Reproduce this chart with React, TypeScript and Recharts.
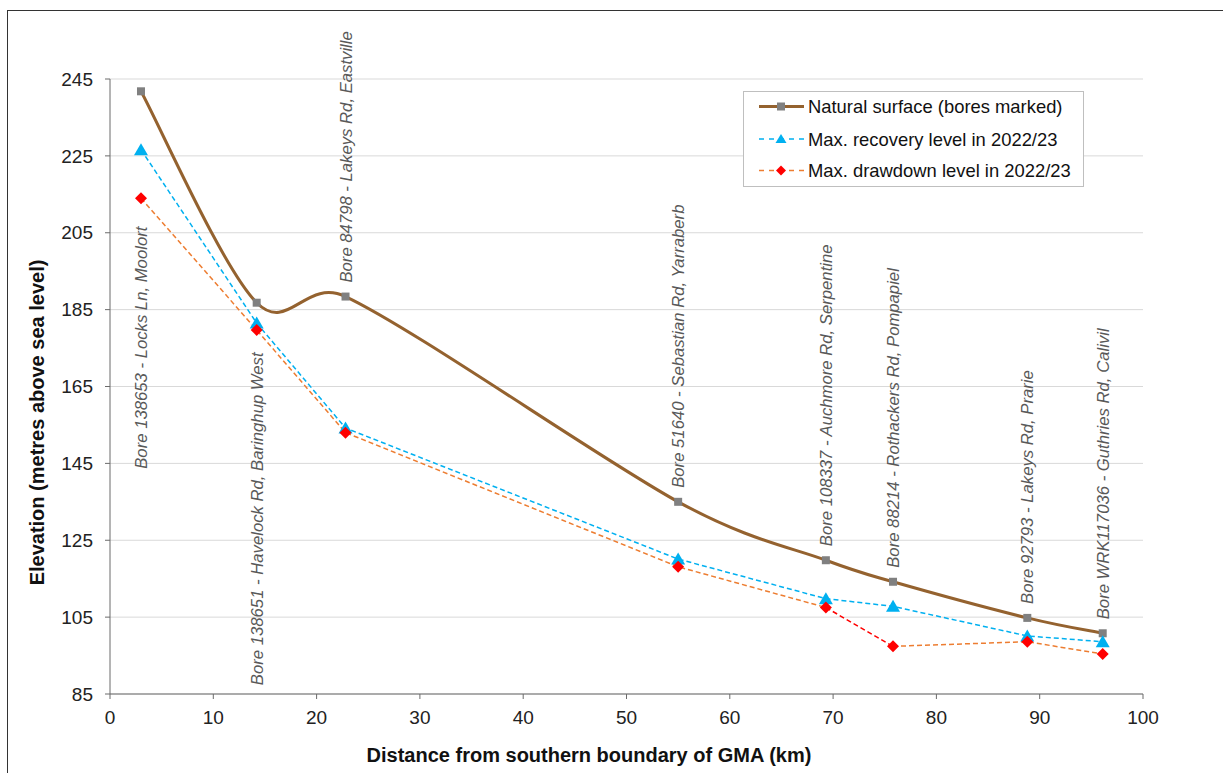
import {
  CartesianGrid,
  LabelList,
  Legend,
  Line,
  LineChart,
  XAxis,
  YAxis,
} from 'recharts';

// bore positions along the GMA and levels (m AHD)
const distanceKm = [3, 14.2, 22.8, 55, 69.3, 75.8, 88.8, 96.1];
const naturalSurface = [241.8, 186.8, 188.4, 135, 119.8, 114.2, 104.8, 100.8];
const maxRecovery = [226.6, 181.5, 154.2, 120.1, 109.8, 107.8, 100.1, 98.6];
const maxDrawdown = [214, 179.7, 153, 118.1, 107.5, 97.4, 98.6, 95.4];

const boreNames = [
  'Bore 138653 - Locks Ln, Moolort',
  'Bore 138651 - Havelock Rd, Baringhup West',
  'Bore 84798 - Lakeys Rd, Eastville',
  'Bore 51640 - Sebastian Rd, Yarraberb',
  'Bore 108337 - Auchmore Rd, Serpentine',
  'Bore 88214 - Rothackers Rd, Pompapiel',
  'Bore 92793 - Lakeys Rd, Prarie',
  'Bore WRK117036 - Guthries Rd, Calivil',
];

const seriesNames = [
  'Natural surface (bores marked)',
  'Max. recovery level in 2022/23',
  'Max. drawdown level in 2022/23',
];

const xTicks = [0, 10, 20, 30, 40, 50, 60, 70, 80, 90, 100];
const yTicks = [85, 105, 125, 145, 165, 185, 205, 225, 245];

// drawdown segment drawn in red (from bore index 4 to 5)
const redSegment = [4, 5];

// where the first two labels were moved to by hand (elevation of label foot)
const labelFootOverride: (number | null)[] = [143.6, 87.3, null, null, null, null, null, null];

const FONT = '"Liberation Sans", Arial, sans-serif';
const BROWN = '#94622f';
const BLUE = '#00b0f0';
const ORANGE = '#ed7d31';
const RED = '#ff0000';

const data = distanceKm.map((km, i) => ({
  km,
  bore: boreNames[i],
  surface: naturalSurface[i],
  recovery: maxRecovery[i],
  drawdown: maxDrawdown[i],
  drawdownA: i <= redSegment[0] ? maxDrawdown[i] : null,
  drawdownRed: i >= redSegment[0] && i <= redSegment[1] ? maxDrawdown[i] : null,
  drawdownB: i >= redSegment[1] ? maxDrawdown[i] : null,
  labelAnchor: labelFootOverride[i] ?? naturalSurface[i],
}));

// Excel style smoothed line (bezier with limited control point reach)
function excelSmooth(context: any) {
  let pts: number[][] = [];
  const dist = (a: number[], b: number[]) => Math.hypot(a[0] - b[0], a[1] - b[1]);
  return {
    areaStart() {},
    areaEnd() {},
    lineStart() {
      pts = [];
    },
    point(x: number, y: number) {
      pts.push([+x, +y]);
    },
    lineEnd() {
      const n = pts.length;
      if (!n) return;
      context.moveTo(pts[0][0], pts[0][1]);
      for (let i = 0; i < n - 1; i++) {
        const p0 = pts[Math.max(i - 1, 0)];
        const p1 = pts[i];
        const p2 = pts[i + 1];
        const p3 = pts[Math.min(i + 2, n - 1)];
        const d12 = dist(p1, p2);
        const d02 = dist(p0, p2);
        const d13 = dist(p1, p3);
        let f1 = 1 / 6;
        let f2 = 1 / 6;
        if (d02 > 0 && d02 / 6 >= d12 / 2) f1 = d12 / (2 * d02);
        if (d13 > 0 && d13 / 6 >= d12 / 2) f2 = d12 / (2 * d13);
        context.bezierCurveTo(
          p1[0] + (p2[0] - p0[0]) * f1,
          p1[1] + (p2[1] - p0[1]) * f1,
          p2[0] - (p3[0] - p1[0]) * f2,
          p2[1] - (p3[1] - p1[1]) * f2,
          p2[0],
          p2[1],
        );
      }
    },
  };
}

const squareDot = (p: any) =>
  p.cx == null ? null : (
    <rect key={`sq-${p.index}`} x={p.cx - 4} y={p.cy - 4} width={8} height={8} fill="#808080" />
  );

const triangleDot = (p: any) =>
  p.cx == null ? null : (
    <path
      key={`tri-${p.index}`}
      d={`M${p.cx},${p.cy - 6.5}L${p.cx + 7},${p.cy + 5.5}L${p.cx - 7},${p.cy + 5.5}Z`}
      fill={BLUE}
    />
  );

const diamondDot = (p: any) =>
  p.cx == null ? null : (
    <path
      key={`dia-${p.index}`}
      d={`M${p.cx},${p.cy - 6}L${p.cx + 6},${p.cy}L${p.cx},${p.cy + 6}L${p.cx - 6},${p.cy}Z`}
      fill={RED}
    />
  );

const renderBoreLabel = (props: any) => {
  const x = props.viewBox?.x ?? props.x;
  const y = props.viewBox?.y ?? props.y;
  if (x == null || y == null) return null;
  const lift = labelFootOverride[props.index] == null ? 14 : 0;
  return (
    <text
      transform={`translate(${x},${y - lift}) rotate(-90)`}
      dy="0.36em"
      textAnchor="start"
      fontSize={16.7}
      fontStyle="italic"
      fontFamily={FONT}
      fill="#595959"
    >
      {props.value}
    </text>
  );
};

function LegendBox() {
  const rows = [15.5, 48, 79.5];
  return (
    <svg width={341} height={96} style={{ display: 'block' }}>
      <rect x={0.5} y={0.5} width={340} height={95} fill="#fff" stroke="#bfbfbf" />
      <line x1={16} x2={61} y1={rows[0]} y2={rows[0]} stroke={BROWN} strokeWidth={3} />
      <rect x={34} y={rows[0] - 4} width={8} height={8} fill="#808080" />
      <line x1={16} x2={61} y1={rows[1]} y2={rows[1]} stroke={BLUE} strokeWidth={1.5} strokeDasharray="5 5" />
      <path d={`M38,${rows[1] - 5}L43.5,${rows[1] + 4}L32.5,${rows[1] + 4}Z`} fill={BLUE} />
      <line x1={16} x2={61} y1={rows[2]} y2={rows[2]} stroke={ORANGE} strokeWidth={1.5} strokeDasharray="5 5" />
      <path d={`M38,${rows[2] - 5}L43,${rows[2]}L38,${rows[2] + 5}L33,${rows[2]}Z`} fill={RED} />
      {seriesNames.map((name, i) => (
        <text
          key={name}
          x={65}
          y={rows[i]}
          dominantBaseline="central"
          fontSize={18.4}
          fontFamily={FONT}
          fill="#111"
        >
          {name}
        </text>
      ))}
    </svg>
  );
}

const tickStyle = { fontSize: 19, fill: '#222', fontFamily: FONT };

export default function App() {
  return (
    <div style={{ position: 'absolute', left: 0, top: 0, width: 1223, height: 773, background: '#fff' }}>
      <div
        style={{
          position: 'absolute',
          left: 7,
          top: 10,
          width: 1230,
          height: 780,
          borderLeft: '1px solid #333',
          borderTop: '1px solid #333',
        }}
      />
      <LineChart
        width={1223}
        height={773}
        data={data}
        margin={{ top: 79, right: 80, bottom: 29, left: 50 }}
        style={{ fontFamily: FONT }}
      >
        <CartesianGrid vertical={false} stroke="#d9d9d9" />
        <XAxis
          type="number"
          dataKey="km"
          domain={[0, 100]}
          ticks={xTicks}
          interval={0}
          height={50}
          tickSize={5}
          tickMargin={12}
          stroke="#6b6b6b"
          tick={tickStyle}
          label={{
            content: ({ viewBox }: any) => (
              <text
                x={viewBox.x + viewBox.width / 2 - 37.5}
                y={viewBox.y + 61}
                textAnchor="middle"
                dominantBaseline="central"
                fontSize={20}
                fontWeight="bold"
                fontFamily={FONT}
                fill="#111"
              >
                Distance from southern boundary of GMA (km)
              </text>
            ),
          }}
        />
        <YAxis
          type="number"
          domain={[85, 245]}
          ticks={yTicks}
          interval={0}
          width={60}
          tickSize={5}
          tickMargin={12}
          stroke="#6b6b6b"
          tick={tickStyle}
          label={{
            content: ({ viewBox }: any) => {
              const cx = viewBox.x - 13;
              const cy = viewBox.y + viewBox.height / 2 + 36;
              return (
                <text
                  x={cx}
                  y={cy}
                  transform={`rotate(-90, ${cx}, ${cy})`}
                  textAnchor="middle"
                  dominantBaseline="central"
                  fontSize={20}
                  fontWeight="bold"
                  fontFamily={FONT}
                  fill="#111"
                >
                  Elevation (metres above sea level)
                </text>
              );
            },
          }}
        />
        <Legend
          layout="horizontal"
          verticalAlign="middle"
          align="center"
          wrapperStyle={{ left: 743, top: 91, width: 341, height: 96 }}
          content={() => <LegendBox />}
        />
        <Line
          dataKey="labelAnchor"
          stroke="none"
          dot={false}
          activeDot={false}
          legendType="none"
          isAnimationActive={false}
        >
          <LabelList dataKey="bore" content={renderBoreLabel} />
        </Line>
        <Line
          dataKey="surface"
          name={seriesNames[0]}
          type={excelSmooth as any}
          stroke={BROWN}
          strokeWidth={3}
          dot={squareDot}
          activeDot={false}
          isAnimationActive={false}
        />
        <Line
          dataKey="recovery"
          name={seriesNames[1]}
          type="linear"
          stroke={BLUE}
          strokeWidth={1.5}
          strokeDasharray="5 3"
          dot={triangleDot}
          activeDot={false}
          isAnimationActive={false}
        />
        <Line
          dataKey="drawdownA"
          type="linear"
          stroke={ORANGE}
          strokeWidth={1.5}
          strokeDasharray="5 3"
          dot={false}
          activeDot={false}
          legendType="none"
          isAnimationActive={false}
        />
        <Line
          dataKey="drawdownRed"
          type="linear"
          stroke={RED}
          strokeWidth={1.5}
          strokeDasharray="5 3"
          dot={false}
          activeDot={false}
          legendType="none"
          isAnimationActive={false}
        />
        <Line
          dataKey="drawdownB"
          type="linear"
          stroke={ORANGE}
          strokeWidth={1.5}
          strokeDasharray="5 3"
          dot={false}
          activeDot={false}
          legendType="none"
          isAnimationActive={false}
        />
        <Line
          dataKey="drawdown"
          name={seriesNames[2]}
          stroke="none"
          dot={diamondDot}
          activeDot={false}
          isAnimationActive={false}
        />
      </LineChart>
    </div>
  );
}
